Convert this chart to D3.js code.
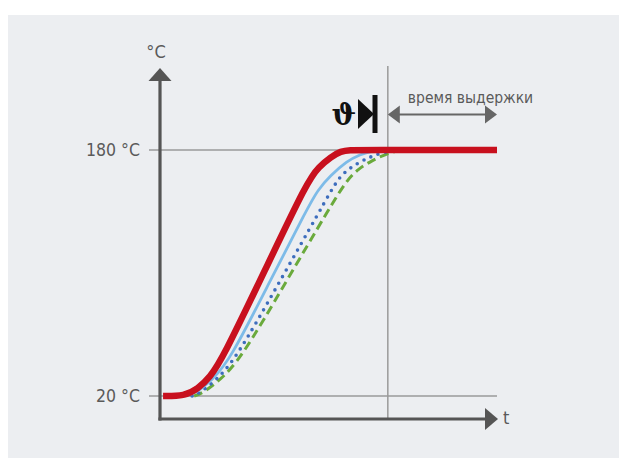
<!DOCTYPE html>
<html>
<head>
<meta charset="utf-8">
<script src="https://cdn.jsdelivr.net/npm/d3@7"></script>
<style>
  html, body { margin: 0; padding: 0; background: #ffffff; }
  svg { display: block; }
  .lbl { font-family: "Liberation Sans Narrow", "DejaVu Sans Condensed", "Liberation Sans", sans-serif; fill: #5a5a5a; }
</style>
</head>
<body>
<svg id="chart" width="620" height="458"></svg>
<script>
// ---- data (time in arbitrary units, temperature in °C) ----
const yTickValues = [20, 180];
const yTickLabels = ["20 °C", "180 °C"];
const yAxisTitle = "°C";
const xAxisTitle = "t";
const holdLabel = "время выдержки";
const holdStartT = 67.7;
const holdEndT = 100;

const redCurve = [[1.2,20],[7.5,20],[11.5,24.6],[15.1,32.4],[18.6,43.4],[31.4,102],[44.1,160.5],[47.3,169],[50.9,175.5],[53.8,179.3],[56.5,180],[60,180],[100,180]];
const lightBlueCurve = [[7.7,20],[11.2,22.3],[15.7,30.4],[21,43.4],[32.5,93.2],[44.1,142.9],[47,154],[50.6,163.1],[55.6,172.8],[59.5,177.1],[63,179.4],[66.9,180]];
const dottedCurve = [[9.8,20],[12.1,22],[16.9,30.4],[22.5,43.4],[35.4,93.2],[48.2,142.9],[52.7,160.5],[55.3,166.3],[58.6,171.2],[61.8,174.8],[64.8,177.4],[68.3,179.4],[70.7,180]];
const dashedCurve = [[10.4,20],[13,22],[18,30.4],[24,43.4],[37.3,93.2],[50.6,142.9],[55.6,160.5],[58.9,167.6],[63.3,173.5],[66.9,177.1],[70.4,179.4],[72.8,180]];

// ---- layout ----
const svg = d3.select("#chart");
svg.append("rect").attr("x", 8).attr("y", 15).attr("width", 611).attr("height", 443).attr("fill", "#eceef1");

const x = d3.scaleLinear().domain([0, 100]).range([159, 497]);
const y = d3.scaleLinear().domain([20, 180]).range([396, 150]);
const axisX = 160, axisY = 419;
const gray = "#9a9a9a", dark = "#555555";

// horizontal reference lines
svg.selectAll("line.grid").data(yTickValues).enter().append("line")
  .attr("class", "grid")
  .attr("x1", 149).attr("x2", x(100))
  .attr("y1", d => y(d)).attr("y2", d => y(d))
  .attr("stroke", gray).attr("stroke-width", 1.5);

// vertical line at start of holding time
svg.append("line").attr("x1", x(holdStartT)).attr("x2", x(holdStartT))
  .attr("y1", 66).attr("y2", axisY).attr("stroke", gray).attr("stroke-width", 1.5);

// y tick labels
svg.selectAll("text.ytick").data(yTickValues).enter().append("text")
  .attr("class", "lbl ytick")
  .attr("x", 140).attr("y", d => y(d))
  .attr("dy", "0.36em")
  .attr("text-anchor", "end")
  .attr("font-size", 17.5)
  .text((d, i) => yTickLabels[i]);

// curves
const line = d3.line().x(d => x(d[0])).y(d => y(d[1])).curve(d3.curveBasis);

svg.append("path").datum(dashedCurve).attr("d", line)
  .attr("fill", "none").attr("stroke", "#6aaa3c").attr("stroke-width", 3)
  .attr("stroke-dasharray", "9 5");
svg.append("path").datum(dottedCurve).attr("d", line)
  .attr("fill", "none").attr("stroke", "#3d6dbd").attr("stroke-width", 3.6)
  .attr("stroke-linecap", "round").attr("stroke-dasharray", "0 7.6");
svg.append("path").datum(lightBlueCurve).attr("d", line)
  .attr("fill", "none").attr("stroke", "#7dbbe8").attr("stroke-width", 2.8);
svg.append("path").datum(redCurve).attr("d", line)
  .attr("fill", "none").attr("stroke", "#c8101e").attr("stroke-width", 6.5)
  .attr("stroke-linejoin", "round");

// axes with arrows
svg.append("line").attr("x1", axisX).attr("x2", axisX).attr("y1", axisY + 1.5).attr("y2", 78)
  .attr("stroke", dark).attr("stroke-width", 3.2);
svg.append("line").attr("x1", axisX - 1.6).attr("x2", 487).attr("y1", axisY).attr("y2", axisY)
  .attr("stroke", dark).attr("stroke-width", 3.2);
svg.append("path").attr("d", `M${axisX},68 L${axisX - 11.5},81 L${axisX + 11.5},81 Z`).attr("fill", dark);
svg.append("path").attr("d", `M498,${axisY} L485,${axisY - 11} L485,${axisY + 11} Z`).attr("fill", dark);

svg.append("text").attr("class", "lbl").attr("x", 156).attr("y", 58)
  .attr("text-anchor", "middle").attr("font-size", 18).text(yAxisTitle);
svg.append("text").attr("class", "lbl").attr("x", 503).attr("y", 424)
  .attr("font-size", 18).text(xAxisTitle);

// holding time double arrow
const ay = 114.5, ax1 = x(holdStartT), ax2 = x(holdEndT);
svg.append("line").attr("x1", ax1 + 8).attr("x2", ax2 - 8).attr("y1", ay).attr("y2", ay)
  .attr("stroke", "#666").attr("stroke-width", 2);
svg.append("path").attr("d", `M${ax1},${ay} L${ax1 + 12},${ay - 9} L${ax1 + 12},${ay + 9} Z`).attr("fill", "#666");
svg.append("path").attr("d", `M${ax2},${ay} L${ax2 - 12},${ay - 9} L${ax2 - 12},${ay + 9} Z`).attr("fill", "#666");
svg.append("text").attr("class", "lbl").attr("x", ax1 + 20).attr("y", 103)
  .attr("font-size", 15.5).text(holdLabel);

// theta symbol with marker
svg.append("text").attr("x", 356).attr("y", 125).attr("text-anchor", "end")
  .attr("font-family", "DejaVu Serif, serif").attr("font-weight", "bold")
  .attr("font-size", 29).attr("fill", "#111").text("ϑ");
svg.append("path").attr("d", "M358,99 L374,114 L358,129 Z").attr("fill", "#111");
svg.append("rect").attr("x", 372.5).attr("y", 95).attr("width", 5).attr("height", 38).attr("fill", "#111");
</script>
</body>
</html>
